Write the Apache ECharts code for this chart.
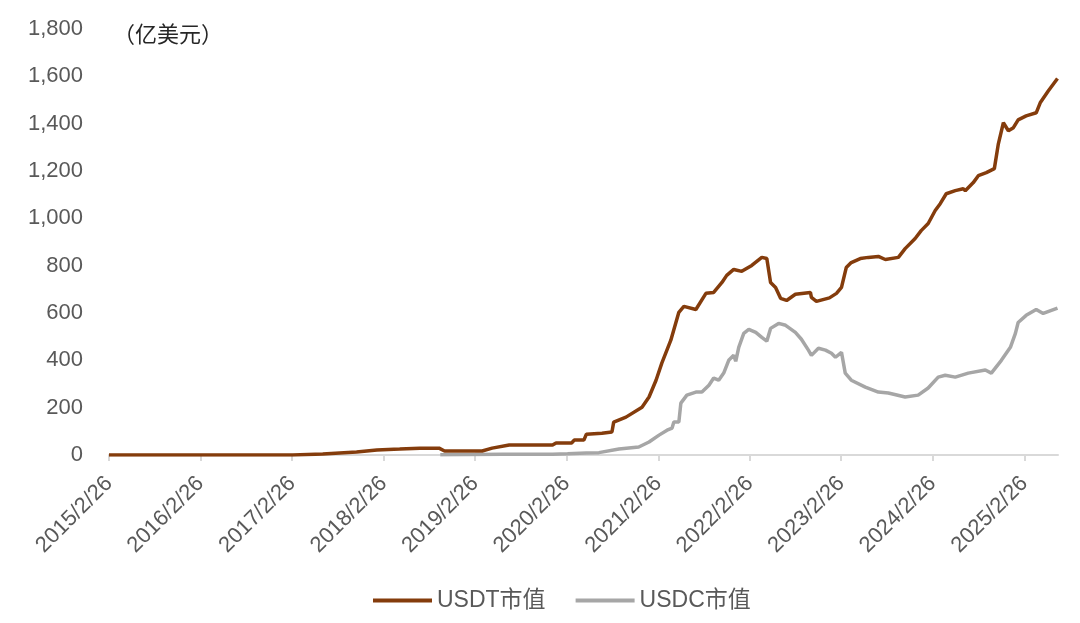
<!DOCTYPE html>
<html style="height: 100%">
<head>
	<meta charset="utf-8">
	<title>USDT / USDC 市值</title>
	<script src="https://cdn.jsdelivr.net/npm/echarts@6/dist/echarts.min.js"></script>
</head>
<body style="height: 100%; margin: 0; background: #fff">
	<div id="main" style="width: 1080px; height: 623px"></div>
	<script type="text/javascript">
		// 数据（亿美元）
		var usdtDates = ['2015-02-26', '2016-06-01', '2017-03-01', '2017-06-28', '2017-11-10', '2018-01-30', '2018-05-01', '2018-07-20',
			'2018-10-05', '2018-10-27', '2019-03-26', '2019-05-05', '2019-07-12', '2020-01-01', '2020-01-15', '2020-03-17',
			'2020-03-28', '2020-05-05', '2020-05-15', '2020-07-16', '2020-08-25', '2020-09-01', '2020-10-20', '2020-12-23',
			'2021-01-20', '2021-02-17', '2021-03-12', '2021-04-17', '2021-05-19', '2021-06-08', '2021-07-26', '2021-09-04',
			'2021-10-05', '2021-11-07', '2021-11-26', '2021-12-24', '2022-01-25', '2022-03-06', '2022-04-15', '2022-05-05',
			'2022-05-20', '2022-06-09', '2022-06-29', '2022-07-23', '2022-08-27', '2022-10-26', '2022-10-30', '2022-11-19',
			'2023-01-10', '2023-02-07', '2023-02-27', '2023-03-18', '2023-04-07', '2023-05-13', '2023-06-14', '2023-07-24',
			'2023-08-21', '2023-10-12', '2023-11-08', '2023-12-18', '2024-01-11', '2024-02-08', '2024-03-07', '2024-03-27',
			'2024-04-20', '2024-05-26', '2024-06-27', '2024-07-05', '2024-08-06', '2024-08-26', '2024-09-27', '2024-10-29',
			'2024-11-14', '2024-12-04', '2024-12-24', '2025-01-13', '2025-02-01', '2025-03-05', '2025-04-14', '2025-04-30',
			'2025-06-01', '2025-07-08'];
		var usdtValues = [0, 0, 0, 4, 13, 21, 25, 29,
			29, 17, 17, 29, 42, 42, 51, 51,
			63, 63, 88, 92, 97, 139, 160, 202,
			245, 316, 388, 485, 603, 628, 615, 683,
			687, 729, 759, 784, 776, 801, 835, 830,
			729, 708, 662, 653, 679, 687, 666, 649,
			664, 683, 708, 792, 813, 830, 835, 839,
			826, 835, 872, 915, 948, 978, 1033, 1062,
			1104, 1117, 1125, 1117, 1151, 1180, 1193, 1210,
			1315, 1404, 1370, 1383, 1416, 1433, 1446, 1488,
			1538, 1591];

		var usdcDates = ['2018-10-10', '2019-02-26', '2019-06-15', '2020-01-01', '2020-03-01', '2020-05-15', '2020-07-04', '2020-09-22',
			'2020-12-10', '2021-01-20', '2021-03-01', '2021-04-02', '2021-04-22', '2021-04-29', '2021-05-19', '2021-05-27',
			'2021-06-20', '2021-07-26', '2021-08-19', '2021-09-16', '2021-10-05', '2021-10-25', '2021-11-14', '2021-12-04',
			'2021-12-24', '2022-01-01', '2022-01-13', '2022-02-02', '2022-02-22', '2022-03-22', '2022-04-15', '2022-05-05',
			'2022-05-20', '2022-06-21', '2022-07-19', '2022-08-27', '2022-09-20', '2022-10-18', '2022-10-30', '2022-11-27',
			'2022-12-25', '2023-01-18', '2023-02-03', '2023-02-27', '2023-03-14', '2023-04-07', '2023-06-02', '2023-07-24',
			'2023-09-02', '2023-11-08', '2023-12-30', '2024-02-08', '2024-03-19', '2024-04-16', '2024-05-26', '2024-07-17',
			'2024-09-23', '2024-10-17', '2024-11-26', '2025-01-01', '2025-01-21', '2025-02-01', '2025-03-05', '2025-04-14',
			'2025-05-12', '2025-07-08'];
		var usdcValues = [1, 2, 3, 3, 5, 8, 10, 25,
			34, 55, 84, 105, 114, 139, 139, 219,
			253, 266, 266, 295, 325, 316, 346, 400,
			421, 396, 455, 514, 531, 518, 497, 481,
			535, 556, 548, 518, 489, 443, 421, 451,
			443, 430, 413, 434, 346, 316, 287, 266,
			262, 245, 253, 283, 329, 337, 329, 346,
			359, 346, 400, 455, 514, 560, 590, 615,
			598, 621];

		var tickDates = ['2015-02-26', '2016-02-26', '2017-02-26', '2018-02-26', '2019-02-26', '2020-02-26',
			'2021-02-26', '2022-02-26', '2023-02-26', '2024-02-26', '2025-02-26'];

		// 'YYYY-MM-DD' -> 时间戳（UTC）
		var ts = function (s) {
			var p = s.split('-');
			return Date.UTC(+p[0], +p[1] - 1, +p[2]);
		};

		var zip = function (dates, values) {
			return dates.map(function (d, i) { return [ts(d), values[i]]; });
		};

		var tickValues = tickDates.map(ts);

		var font = '"Liberation Sans", Arial, "Noto Sans CJK SC", sans-serif';
		var myChart = echarts.init(document.getElementById('main'));

		var option = {
			animation: false,
			grid: { left: 109, right: 22, top: 29, bottom: 168 },
			graphic: [{
				type: 'text',
				left: 113,
				top: 25,
				style: { text: '（亿美元）', fill: '#262626', font: '22px ' + font }
			}],
			legend: {
				bottom: 6,
				left: 368,
				icon: 'rect',
				itemWidth: 59,
				itemHeight: 4,
				itemGap: 30,
				textStyle: { color: '#595959', fontSize: 23, fontFamily: font },
				data: ['USDT市值', 'USDC市值']
			},
			xAxis: {
				type: 'value',
				min: ts('2015-02-26'),
				max: ts('2025-07-10'),
				splitLine: { show: false },
				axisLine: { lineStyle: { color: '#d9d9d9', width: 2 } },
				axisTick: { customValues: tickValues, length: 6, lineStyle: { color: '#d9d9d9', width: 2 } },
				axisLabel: {
					customValues: tickValues,
					rotate: 45,
					margin: 25,
					color: '#595959',
					fontSize: 22,
					fontFamily: font,
					formatter: function (v) {
						var d = new Date(v);
						return d.getUTCFullYear() + '/' + (d.getUTCMonth() + 1) + '/' + d.getUTCDate();
					}
				}
			},
			yAxis: {
				type: 'value',
				min: 0,
				max: 1800,
				interval: 200,
				splitLine: { show: false },
				axisLine: { show: false },
				axisTick: { show: false },
				axisLabel: {
					margin: 26,
					color: '#595959',
					fontSize: 22,
					fontFamily: font,
					formatter: function (v) { return v.toLocaleString('en-US'); }
				}
			},
			series: [{
				name: 'USDC市值',
				type: 'line',
				showSymbol: false,
				itemStyle: { color: '#a6a6a6' },
				lineStyle: { color: '#a6a6a6', width: 3.5 },
				data: zip(usdcDates, usdcValues)
			}, {
				name: 'USDT市值',
				type: 'line',
				showSymbol: false,
				itemStyle: { color: '#843c0c' },
				lineStyle: { color: '#843c0c', width: 3.5 },
				data: zip(usdtDates, usdtValues)
			}]
		};

		myChart.setOption(option);
	</script>
</body>
</html>
